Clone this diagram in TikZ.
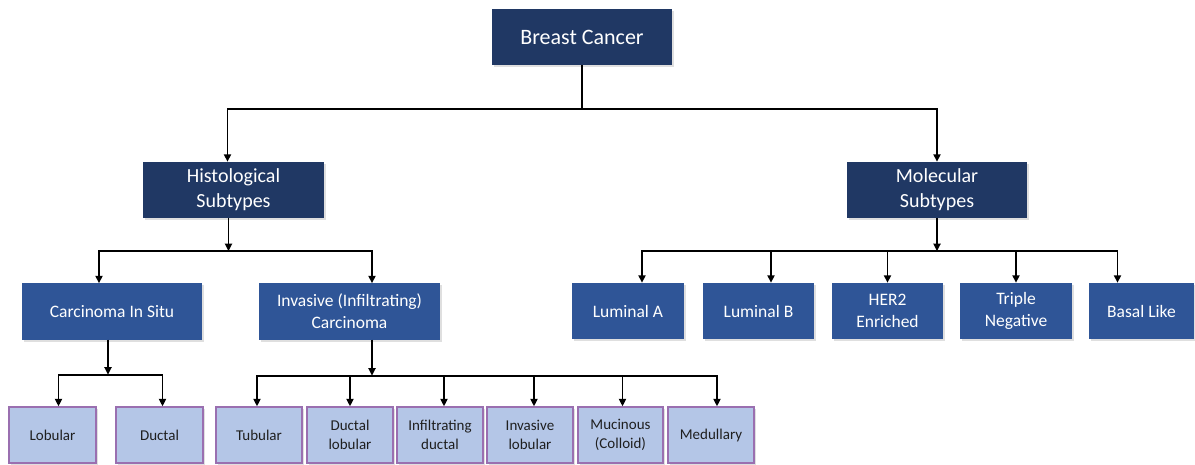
\documentclass[tikz,border=0pt]{standalone}
\usepackage{fontspec}
\setmainfont{Carlito}
\usetikzlibrary{arrows.meta,shadows}
\definecolor{navy}{HTML}{203864}
\definecolor{midblue}{HTML}{2F5597}
\definecolor{leaffill}{HTML}{B4C6E7}
\definecolor{leafedge}{HTML}{9A6FB0}
\begin{document}
\begin{tikzpicture}[x=1pt,y=-1pt,
  box/.style={rectangle, inner sep=0pt, align=center,
    drop shadow={shadow xshift=1.5pt, shadow yshift=-2pt, opacity=0.25}},
  topbox/.style={box, fill=navy, text=white, minimum height=56,
    font=\fontsize{20}{25}\selectfont},
  midbox/.style={box, fill=midblue, text=white, minimum height=56,
    font=\fontsize{17.5}{22}\selectfont},
  leafbox/.style={box, fill=leaffill, draw=leafedge, line width=1.3pt,
    text=black!88, minimum height=56, font=\fontsize{15}{19.5}\selectfont},
  conn/.style={line width=1.8pt, black},
  arr/.style={conn, -{Triangle[length=7.5pt,width=7pt]}}]
\useasboundingbox (0,0) rectangle (1195,465);
% top levels
\node[topbox, minimum width=180, font=\fontsize{22}{26}\selectfont] (bc) at (582,37) {Breast Cancer};
\node[topbox, minimum width=181] (hist) at (233.5,190) {Histological\\Subtypes};
\node[topbox, minimum width=180] (mol) at (937,190) {Molecular\\Subtypes};
% second level
\node[midbox, minimum width=180] (cis) at (112,311.5) {Carcinoma In Situ};
\node[midbox, minimum width=181] (inv) at (349.5,311.5) {Invasive (Infiltrating)\\Carcinoma};
\node[midbox, minimum width=112] (luma) at (628,311) {Luminal A};
\node[midbox, minimum width=111] (lumb) at (758.5,311) {Luminal B};
\node[midbox, minimum width=111] (her2) at (887.5,311) {HER2\\Enriched};
\node[midbox, minimum width=112] (trip) at (1016,311) {Triple\\Negative};
\node[midbox, minimum width=105] (basal) at (1141.5,311) {Basal Like};
% leaves
\node[leafbox, minimum width=87] (lob) at (52.5,435) {Lobular};
\node[leafbox, minimum width=87] (duc) at (159.5,435) {Ductal};
\node[leafbox, minimum width=86] (tub) at (259,435) {Tubular};
\node[leafbox, minimum width=86] (dlob) at (350,435) {Ductal\\lobular};
\node[leafbox, minimum width=86] (idu) at (440,435) {Infiltrating\\ductal};
\node[leafbox, minimum width=86] (ilob) at (530,435) {Invasive\\lobular};
\node[leafbox, minimum width=85] (muc) at (620.5,435) {Mucinous\\(Colloid)};
\node[leafbox, minimum width=86] (med) at (711,435) {Medullary};
% connectors: root
\draw[conn] (bc.south) -- ++(0,44) coordinate (j0);
\draw[arr] (j0) -| ([xshift=-6]hist.north);
\draw[arr] (j0) -| (mol.north);
% histological
\draw[arr] ([xshift=-5]hist.south) -- ++(0,33) coordinate (j1);
\draw[arr] (j1) -| ([xshift=-13]cis.north);
\draw[arr] (j1) -| ([xshift=22.5]inv.north);
% molecular
\draw[arr] (mol.south) -- ++(0,33) coordinate (j2);
\draw[arr] (j2) -| ([xshift=14]luma.north);
\draw[arr] (j2) -| ([xshift=12.5]lumb.north);
\draw[arr] (j2) -| (her2.north);
\draw[arr] (j2) -| (trip.north);
\draw[arr] (j2) -| ([xshift=-24]basal.north);
% carcinoma in situ
\draw[arr] ([xshift=-4]cis.south) -- ++(0,35) coordinate (j3);
\draw[arr] (j3) -| ([xshift=6]lob.north);
\draw[arr] (j3) -| ([xshift=3]duc.north);
% invasive
\draw[arr] ([xshift=22.5]inv.south) -- ++(0,36) coordinate (j4);
\draw[arr] (j4) -| ([xshift=-2]tub.north);
\draw[arr] (j4) -| (dlob.north);
\draw[arr] (j4) -| ([xshift=4]idu.north);
\draw[arr] (j4) -| ([xshift=4]ilob.north);
\draw[arr] (j4) -| ([xshift=2]muc.north);
\draw[arr] (j4) -| ([xshift=6]med.north);
\end{tikzpicture}
\end{document}
